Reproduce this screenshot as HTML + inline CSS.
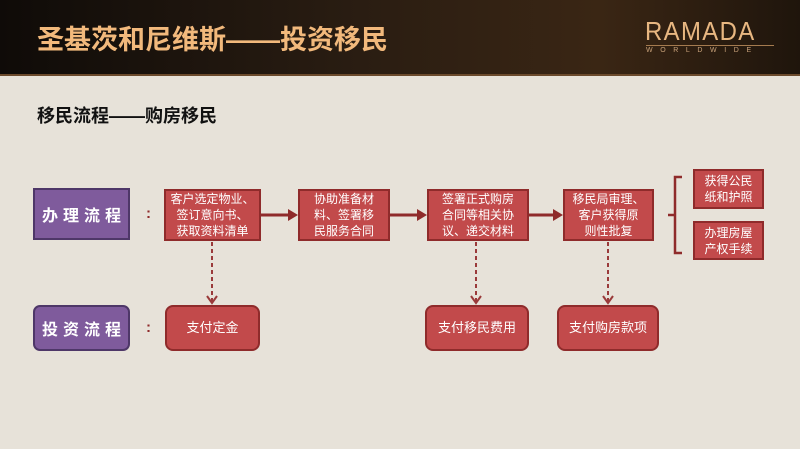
<!DOCTYPE html>
<html><head><meta charset="utf-8"><style>
*{margin:0;padding:0;box-sizing:border-box}
body{width:800px;height:449px;overflow:hidden;background:#e7e2d9;font-family:"Liberation Sans","Noto Sans CJK SC",sans-serif;position:relative}
.hd{position:absolute;left:0;top:0;width:800px;height:76px;background:linear-gradient(90deg,#0f0b08 0%,#2a1d12 45%,#3a2614 75%,#1f150c 100%);border-bottom:2px solid #6b4a2c}
.t{position:absolute;left:37px;top:18px;font-size:27px;font-weight:bold;color:#f2b97c;white-space:nowrap}
.logo{position:absolute;left:645px;top:16px;color:#e8b781;font-size:26px;letter-spacing:1.5px;font-family:"Liberation Sans",sans-serif;transform:scaleX(0.92);transform-origin:left}
.ww{position:absolute;left:646px;top:45px;width:128px;border-top:1px solid #a57b4f;color:#c9a27a;font-size:7px;letter-spacing:7.6px;padding-top:1px}
.sub{position:absolute;left:37px;top:102px;font-size:18px;font-weight:bold;color:#111;white-space:nowrap}
.b{position:absolute;display:flex;align-items:center;justify-content:center;text-align:center;color:#fff;font-size:12px;line-height:16px;background:#c24a4b;border:2px solid #8f2b2b}
.r{border-radius:8px;font-size:13px}
.p{position:absolute;display:flex;align-items:center;justify-content:center;background:#7f5b9c;border:2px solid #4e3768;color:#fff;font-weight:bold;font-size:16px;letter-spacing:5px;padding-left:5px}
.c{position:absolute;color:#8f2b2b;font-weight:bold;font-size:15px}
</style></head><body>
<div class="hd"><div class="t">圣基茨和尼维斯——投资移民</div>
<div class="logo">RAMADA</div><div class="ww">WORLDWIDE</div></div>
<div class="sub">移民流程——购房移民</div>
<div class="p" style="left:33px;top:188px;width:97px;height:52px">办理流程</div>
<div class="p" style="left:33px;top:305px;width:97px;height:46px;border-radius:7px">投资流程</div>
<div class="c" style="left:146px;top:205px">:</div>
<div class="c" style="left:146px;top:319px">:</div>
<div class="b" style="left:164px;top:189px;width:97px;height:52px">客户选定物业、<br>签订意向书、<br>获取资料清单</div>
<div class="b" style="left:298px;top:189px;width:92px;height:52px">协助准备材<br>料、签署移<br>民服务合同</div>
<div class="b" style="left:427px;top:189px;width:102px;height:52px">签署正式购房<br>合同等相关协<br>议、递交材料</div>
<div class="b" style="left:563px;top:189px;width:91px;height:52px">移民局审理、<br>客户获得原<br>则性批复</div>
<div class="b" style="left:693px;top:169px;width:71px;height:40px">获得公民<br>纸和护照</div>
<div class="b" style="left:693px;top:221px;width:71px;height:39px">办理房屋<br>产权手续</div>
<div class="b r" style="left:165px;top:305px;width:95px;height:46px">支付定金</div>
<div class="b r" style="left:425px;top:305px;width:104px;height:46px">支付移民费用</div>
<div class="b r" style="left:557px;top:305px;width:102px;height:46px">支付购房款项</div>
<svg width="800" height="449" style="position:absolute;left:0;top:0">
<g stroke="#8f2b2b" stroke-width="3" fill="#8f2b2b">
<line x1="261" y1="215" x2="290" y2="215"/><polygon points="288,209 298,215 288,221" stroke="none"/>
<line x1="390" y1="215" x2="419" y2="215"/><polygon points="417,209 427,215 417,221" stroke="none"/>
<line x1="529" y1="215" x2="555" y2="215"/><polygon points="553,209 563,215 553,221" stroke="none"/>
</g>
<g stroke="#9a3a3a" stroke-width="2" fill="none">
<line x1="212" y1="242" x2="212" y2="302" stroke-dasharray="4,3"/><polyline points="207,296 212,303 217,296"/>
<line x1="476" y1="242" x2="476" y2="302" stroke-dasharray="4,3"/><polyline points="471,296 476,303 481,296"/>
<line x1="608" y1="242" x2="608" y2="302" stroke-dasharray="4,3"/><polyline points="603,296 608,303 613,296"/>
<path d="M682,177 L675,177 L675,253 L682,253 M668,215 L675,215" stroke="#8f2b2b" stroke-width="2.5"/>
</g>
</svg>
</body></html>
